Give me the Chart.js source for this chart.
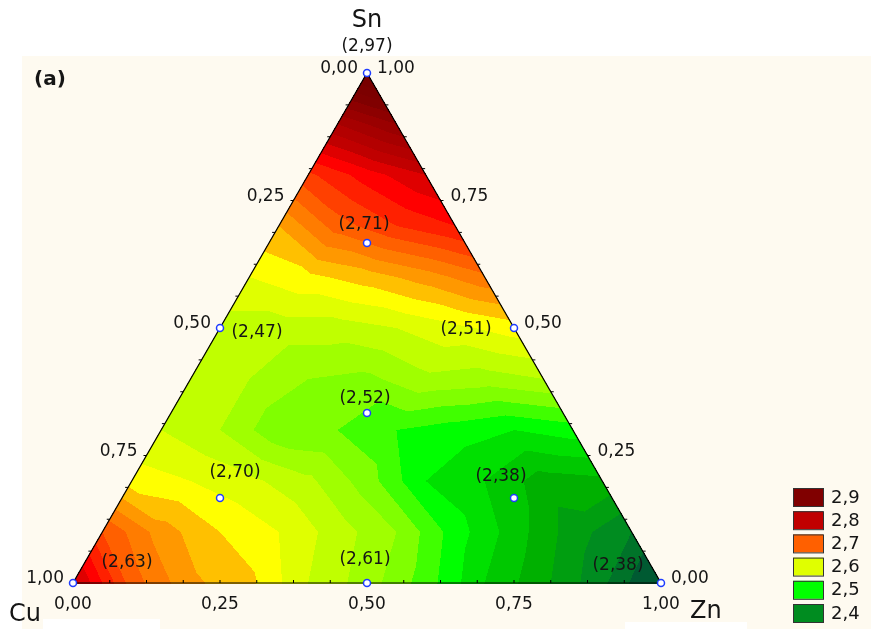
<!DOCTYPE html>
<html>
<head>
<meta charset="utf-8">
<script src="https://cdn.jsdelivr.net/npm/chart.js@4.4.0/dist/chart.umd.min.js"></script>
<style>
  html, body { margin: 0; padding: 0; background: #fff; }
  canvas { display: block; }
</style>
</head>
<body>
<canvas id="ternaryChart" width="871" height="629"></canvas>
<script>
// Ternary contour plot Cu - Zn - Sn (Statistica style), drawn on a scatter chart

// design points (mixture fractions) and measured responses
const pointCu = [0, 1, 0, 0.5, 0, 0.5, 1/3, 1/6, 2/3, 1/6];
const pointZn = [0, 0, 1, 0, 0.5, 0.5, 1/3, 1/6, 1/6, 2/3];
const pointSn = [1, 0, 0, 0.5, 0.5, 0, 1/3, 2/3, 1/6, 1/6];
const pointLabels = ['(2,97)', '(2,63)', '(2,38)', '(2,47)', '(2,51)', '(2,61)', '(2,52)', '(2,71)', '(2,70)', '(2,38)'];

// fitted surface on a 0.1 lattice
// row index = Sn * 10, column index = Zn * 10
const surfaceRows = [
  [2.81, 2.71, 2.665, 2.645, 2.60, 2.57, 2.53, 2.48, 2.445, 2.405, 2.35],
  [2.72, 2.67, 2.64, 2.62, 2.59, 2.56, 2.51, 2.47, 2.43, 2.40],
  [2.63, 2.62, 2.605, 2.585, 2.55, 2.50, 2.48, 2.45, 2.455],
  [2.60, 2.58, 2.545, 2.54, 2.52, 2.51, 2.50, 2.51],
  [2.58, 2.58, 2.56, 2.555, 2.575, 2.57, 2.58],
  [2.59, 2.59, 2.59, 2.60, 2.615, 2.63],
  [2.62, 2.635, 2.65, 2.67, 2.695],
  [2.66, 2.71, 2.74, 2.76],
  [2.735, 2.77, 2.80],
  [2.84, 2.88],
  [2.97]
];

const axisTicks = [0, 0.25, 0.5, 0.75, 1];
const axisTickLabels = ['0,00', '0,25', '0,50', '0,75', '1,00'];

const legendLevels = [2.9, 2.8, 2.7, 2.6, 2.5, 2.4];
const legendLabels = ['2,9', '2,8', '2,7', '2,6', '2,5', '2,4'];

// ---- styles ----
const H = Math.sqrt(3) / 2;
const bandStep = 0.02;
const colorStopValues = [2.36, 2.40, 2.44, 2.48, 2.50, 2.54, 2.58, 2.60, 2.62, 2.64, 2.66, 2.70, 2.76, 2.80, 2.90, 3.00];
const colorStopColors = ['#005a32', '#008c20', '#00b000', '#00e000', '#00ff00', '#80ff00', '#c0ff00', '#e0ff00',
  '#ffff00', '#ffc000', '#ff9800', '#ff6000', '#ff0000', '#c00000', '#800000', '#6c0000'];
const labelOffsets = [[0, -26], [54, -20], [-43, -17], [37, 5], [-48, 2], [-2, -23], [-2, -14], [-3, -18], [15, -25], [-13, -21]];
const FONT = '"DejaVu Sans", Verdana, sans-serif';
const TEXT = '#151515';

function hexToRgb(h) {
  return [parseInt(h.slice(1, 3), 16), parseInt(h.slice(3, 5), 16), parseInt(h.slice(5, 7), 16)];
}
const stopRgb = colorStopColors.map(hexToRgb);

function colorAt(v) {
  const q = Math.floor(v / bandStep + 1e-6) * bandStep;
  if (q <= colorStopValues[0]) return stopRgb[0];
  for (let k = 1; k < colorStopValues.length; k++) {
    if (q <= colorStopValues[k] + 1e-9) {
      const t = (q - colorStopValues[k - 1]) / (colorStopValues[k] - colorStopValues[k - 1]);
      const a = stopRgb[k - 1], b = stopRgb[k];
      return [0, 1, 2].map(c => Math.round(a[c] + t * (b[c] - a[c])));
    }
  }
  return stopRgb[stopRgb.length - 1];
}

// linear interpolation inside the lattice triangles
function surfaceAt(s, z) {
  const n = surfaceRows.length - 1;
  let a = Math.max(0, s) * n, b = Math.max(0, z) * n;
  if (a + b > n) { const k = n / (a + b); a *= k; b *= k; }
  let i = Math.floor(a), j = Math.floor(b);
  if (i >= n) return surfaceRows[n][0];
  if (i + j >= n) j = n - 1 - i;
  const fa = a - i, fb = b - j;
  const v00 = surfaceRows[i][j], v10 = surfaceRows[i + 1][j], v01 = surfaceRows[i][j + 1];
  const v11 = surfaceRows[i + 1][j + 1];
  if (fa + fb <= 1 || v11 === undefined) return v00 + fa * (v10 - v00) + fb * (v01 - v00);
  return v11 + (1 - fb) * (v10 - v11) + (1 - fa) * (v01 - v11);
}

// ternary (Zn, Sn) -> chart values
const toX = (zn, sn) => zn + sn / 2;
const toY = sn => sn * H;

const backgroundPlugin = {
  id: 'paper',
  beforeDraw(chart) {
    const ctx = chart.ctx;
    ctx.save();
    ctx.fillStyle = '#ffffff';
    ctx.fillRect(0, 0, chart.width, chart.height);
    ctx.fillStyle = '#fefaf0';
    ctx.fillRect(22, 56, chart.width - 22, chart.height - 56);
    ctx.fillStyle = '#ffffff';
    ctx.fillRect(43, 619, 117, 10);
    ctx.fillRect(625, 622, 122, 7);
    ctx.restore();
  }
};

const contourPlugin = {
  id: 'contour',
  beforeDatasetsDraw(chart) {
    const ctx = chart.ctx;
    const xs = chart.scales.x, ys = chart.scales.y;
    const area = chart.chartArea;
    const w = Math.ceil(area.right - area.left) + 2;
    const h = Math.ceil(area.bottom - area.top) + 2;
    const off = document.createElement('canvas');
    off.width = w; off.height = h;
    const octx = off.getContext('2d');
    const img = octx.createImageData(w, h);
    for (let py = 0; py < h; py++) {
      const s = ys.getValueForPixel(area.top - 1 + py + 0.5) / H;
      for (let px = 0; px < w; px++) {
        const z = xs.getValueForPixel(area.left - 1 + px + 0.5) - s / 2;
        const c = 1 - s - z;
        if (s < -0.001 || z < -0.001 || c < -0.001) continue;
        const rgb = colorAt(surfaceAt(s, z));
        const o = (py * w + px) * 4;
        img.data[o] = rgb[0]; img.data[o + 1] = rgb[1]; img.data[o + 2] = rgb[2]; img.data[o + 3] = 255;
      }
    }
    octx.putImageData(img, 0, 0);
    ctx.drawImage(off, area.left - 1, area.top - 1);

    // triangle outline
    const P = (zn, sn) => [xs.getPixelForValue(toX(zn, sn)), ys.getPixelForValue(toY(sn))];
    const cu = P(0, 0), zn = P(1, 0), sn = P(0, 1);
    ctx.save();
    ctx.strokeStyle = '#000';
    ctx.lineWidth = 1.2;
    ctx.beginPath();
    ctx.moveTo(cu[0], cu[1]); ctx.lineTo(zn[0], zn[1]); ctx.lineTo(sn[0], sn[1]); ctx.closePath();
    ctx.stroke();

    // small ticks every 1/16
    ctx.lineWidth = 1;
    for (let k = 1; k < 16; k++) {
      const t = k / 16;
      let p = P(t, 0);
      ctx.beginPath(); ctx.moveTo(p[0], p[1]); ctx.lineTo(p[0], p[1] - 3); ctx.stroke();
      p = P(0, t);
      ctx.beginPath(); ctx.moveTo(p[0], p[1]); ctx.lineTo(p[0] - 3, p[1]); ctx.stroke();
      p = P(1 - t, t);
      ctx.beginPath(); ctx.moveTo(p[0], p[1]); ctx.lineTo(p[0] + 3, p[1]); ctx.stroke();
    }
    ctx.restore();
  },
  afterDraw(chart) {
    const ctx = chart.ctx;
    const xs = chart.scales.x, ys = chart.scales.y;
    const P = (zn, sn) => [xs.getPixelForValue(toX(zn, sn)), ys.getPixelForValue(toY(sn))];
    ctx.save();
    ctx.fillStyle = TEXT;
    ctx.textBaseline = 'middle';

    // axis labels: bottom = Zn, left = Cu, right = Sn
    ctx.font = '17px ' + FONT;
    axisTicks.forEach((t, k) => {
      let p = P(t, 0);
      ctx.textAlign = 'center';
      ctx.fillText(axisTickLabels[k], p[0], p[1] + 22);
      p = P(0, 1 - t);   // Cu fraction t on the left edge
      ctx.textAlign = 'right';
      ctx.fillText(axisTickLabels[k], p[0] - 9, p[1] - 4);
      p = P(1 - t, t);   // Sn fraction t on the right edge
      ctx.textAlign = 'left';
      ctx.fillText(axisTickLabels[k], p[0] + 10, p[1] - 4);
    });

    // point value labels
    ctx.textAlign = 'center';
    pointLabels.forEach((lab, k) => {
      const p = P(pointZn[k], pointSn[k]);
      ctx.fillText(lab, p[0] + labelOffsets[k][0], p[1] + labelOffsets[k][1]);
    });

    // component names
    ctx.font = '24px ' + FONT;
    ctx.textAlign = 'center';
    const top = P(0, 1);
    ctx.fillText('Sn', top[0], 21);
    ctx.textAlign = 'left';
    ctx.fillText('Cu', 9, 615);
    ctx.fillText('Zn', 690, 612);

    ctx.font = 'bold 20px ' + FONT;
    ctx.fillText('(a)', 34, 80);

    // legend
    ctx.font = '18px ' + FONT;
    legendLevels.forEach((lv, k) => {
      const y = 488 + k * 23.2;
      const rgb = colorAt(lv + 1e-4);
      ctx.fillStyle = 'rgb(' + rgb.join(',') + ')';
      ctx.fillRect(793, y, 30, 18);
      ctx.strokeStyle = '#333';
      ctx.lineWidth = 1;
      ctx.strokeRect(793.5, y + 0.5, 30, 18);
      ctx.fillStyle = TEXT;
      ctx.fillText(legendLabels[k], 831, y + 10);
    });
    ctx.restore();
  }
};

const designData = pointZn.map((z, k) => ({ x: toX(z, pointSn[k]), y: toY(pointSn[k]) }));

new Chart(document.getElementById('ternaryChart'), {
  type: 'scatter',
  data: {
    datasets: [{
      label: 'design points',
      data: designData,
      pointRadius: 3.5,
      pointBackgroundColor: '#ffffff',
      pointBorderColor: '#1f3cff',
      pointBorderWidth: 1.5,
      clip: false
    }]
  },
  options: {
    responsive: false,
    animation: false,
    layout: { padding: { left: 73, right: 210, top: 73, bottom: 46 } },
    plugins: { legend: { display: false }, tooltip: { enabled: false } },
    scales: {
      x: { type: 'linear', min: 0, max: 1, display: false },
      y: { type: 'linear', min: 0, max: H, display: false }
    }
  },
  plugins: [backgroundPlugin, contourPlugin]
});
</script>
</body>
</html>
